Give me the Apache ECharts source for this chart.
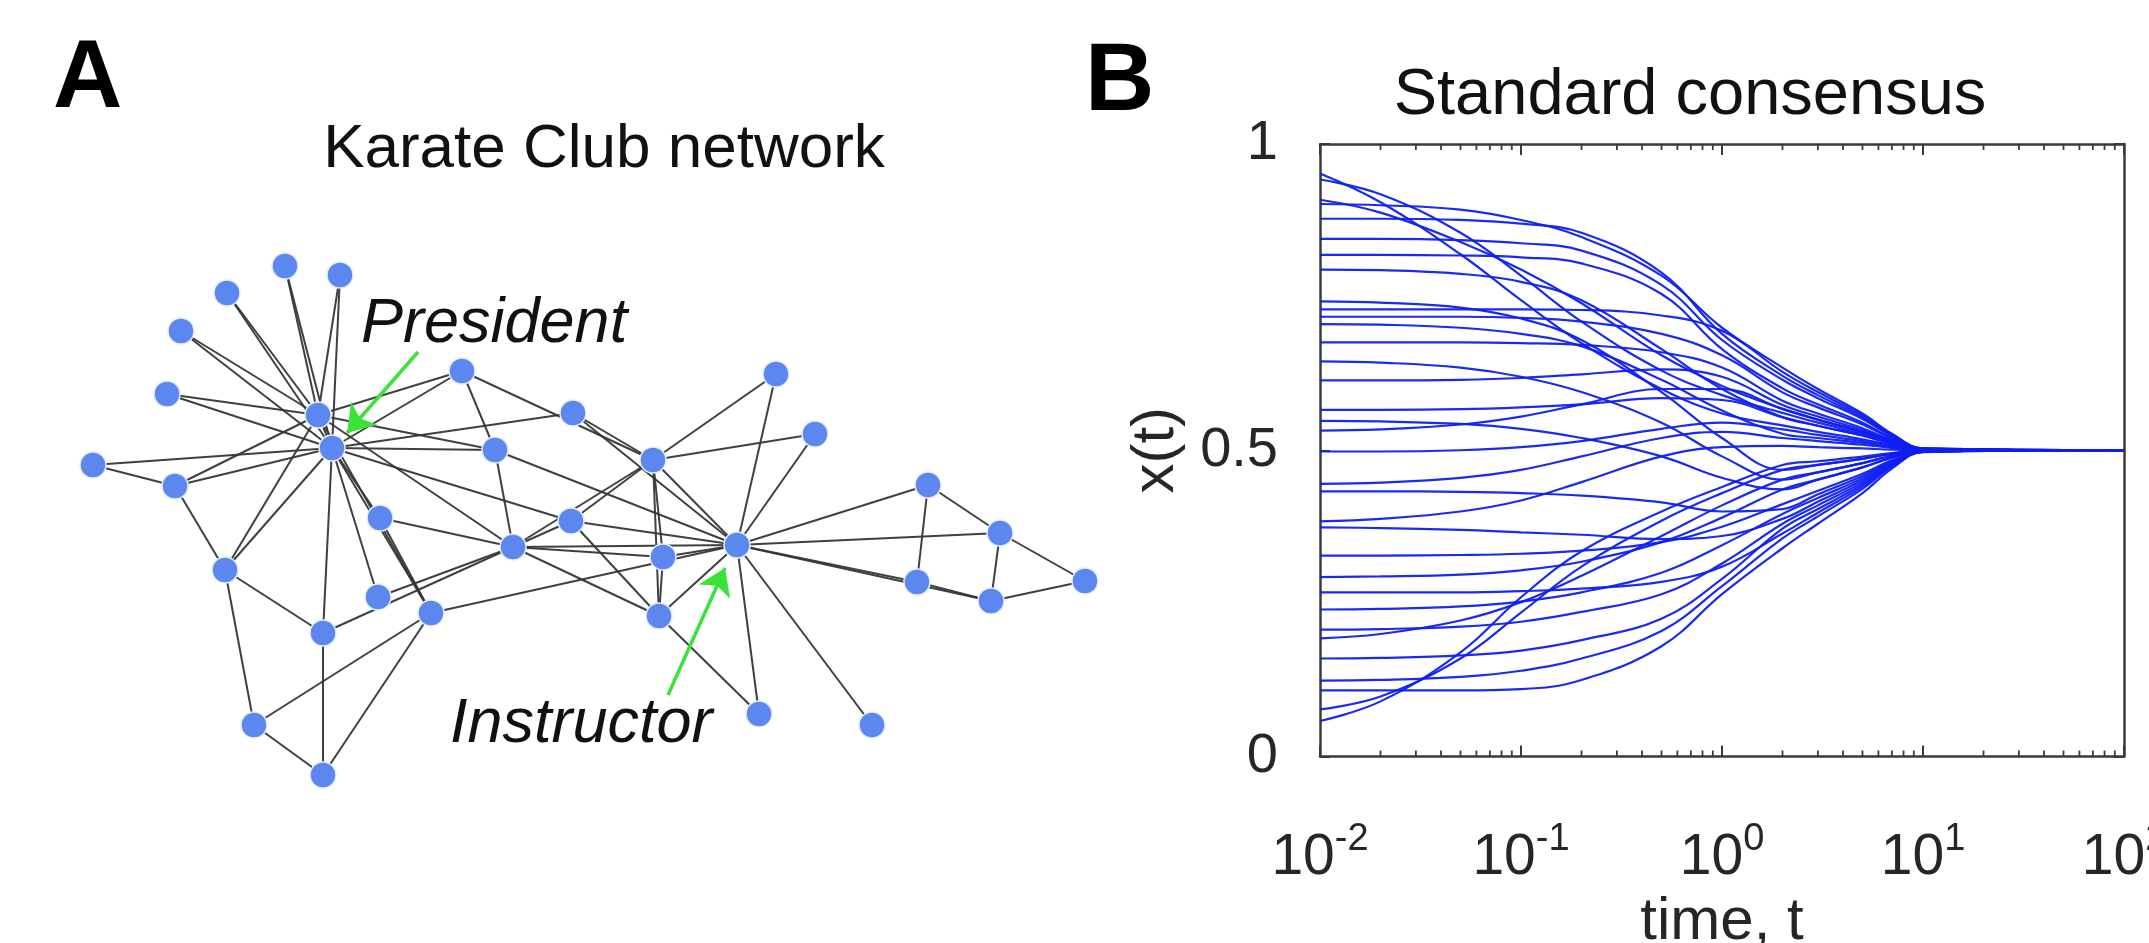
<!DOCTYPE html>
<html><head><meta charset="utf-8">
<script src="https://cdn.jsdelivr.net/npm/echarts@6/dist/echarts.min.js"></script>
<style>html,body{margin:0;padding:0;background:#fff}#c{width:2149px;height:943px}</style>
</head><body><div id="c"></div><script>
// ---------- Panel A: Karate club network (node positions) ----------
const nodeX = [737,653,513,659,917,1000,991,663,495,378,928,872,759,571,285,340,1085,776,227,573,181,815,167,225,323,254,93,323,380,175,462,431,318,332];
const nodeY = [545,460,547,616,582,533,601,557,450,597,485,725,714,521,266,275,581,374,293,413,331,434,394,570,775,725,465,633,518,486,371,613,415,448];
const edges = [[1,2],[1,3],[1,4],[1,5],[1,6],[1,7],[1,8],[1,9],[1,11],[1,12],[1,13],[1,14],[1,18],[1,20],[1,22],[1,32],
[2,3],[2,4],[2,8],[2,14],[2,18],[2,20],[2,22],[2,31],
[3,4],[3,8],[3,9],[3,10],[3,14],[3,28],[3,29],[3,33],
[4,8],[4,13],[4,14],[5,7],[5,11],[6,7],[6,11],[6,17],[7,17],
[9,31],[9,33],[9,34],[10,34],[14,34],[15,33],[15,34],[16,33],[16,34],[19,33],[19,34],[20,34],
[21,33],[21,34],[23,33],[23,34],[24,26],[24,28],[24,30],[24,33],[24,34],[25,26],[25,28],[25,32],[26,32],
[27,30],[27,34],[28,34],[29,32],[29,34],[30,33],[30,34],[31,33],[31,34],[32,33],[32,34],[33,34]];
const arrowFrom = [[418,352],[668,695]];
const arrowTo   = [[347,433],[725,568]];

// ---------- Panel B: Standard consensus trajectories ----------
const timeT = [0.01,0.02,0.05,0.1,0.2,0.5,1,2,3,5,7,10,100];
const xValues = [
[0.952,0.905,0.82,0.745,0.675,0.60,0.56,0.5405,0.530,0.518,0.508,0.501,0.5],
[0.942,0.918,0.855,0.785,0.71,0.63,0.59,0.561,0.545,0.527,0.512,0.501,0.5],
[0.909,0.888,0.84,0.795,0.74,0.655,0.605,0.5675,0.55,0.53,0.5135,0.5015,0.5],
[0.902,0.90,0.893,0.876,0.848,0.785,0.70,0.635,0.60,0.56,0.527,0.503,0.5],
[0.878,0.878,0.876,0.87,0.855,0.79,0.69,0.6215,0.59,0.554,0.524,0.503,0.5],
[0.845,0.845,0.843,0.838,0.826,0.77,0.68,0.615,0.585,0.551,0.523,0.5026,0.5],
[0.819,0.819,0.818,0.815,0.805,0.755,0.665,0.601,0.575,0.545,0.52,0.502,0.5],
[0.795,0.794,0.788,0.775,0.745,0.665,0.60,0.554,0.54,0.524,0.511,0.501,0.5],
[0.743,0.741,0.733,0.715,0.68,0.595,0.52,0.468,0.476,0.486,0.494,0.4994,0.5],
[0.730,0.730,0.730,0.73,0.729,0.72,0.695,0.628,0.595,0.557,0.526,0.503,0.5],
[0.718,0.718,0.718,0.716,0.71,0.69,0.655,0.5945,0.57,0.542,0.519,0.502,0.5],
[0.706,0.705,0.70,0.69,0.67,0.615,0.565,0.527,0.52,0.512,0.505,0.5006,0.5],
[0.676,0.676,0.676,0.675,0.672,0.66,0.635,0.581,0.56,0.536,0.516,0.502,0.5],
[0.645,0.643,0.635,0.62,0.595,0.545,0.49,0.452,0.464,0.479,0.491,0.499,0.5],
[0.614,0.614,0.615,0.618,0.624,0.632,0.62,0.574,0.555,0.533,0.515,0.502,0.5],
[0.566,0.566,0.567,0.57,0.575,0.585,0.582,0.554,0.54,0.524,0.511,0.501,0.5],
[0.548,0.547,0.543,0.535,0.52,0.49,0.455,0.436,0.452,0.472,0.488,0.4988,0.5],
[0.532,0.534,0.542,0.555,0.575,0.60,0.60,0.5675,0.55,0.53,0.5135,0.5015,0.5],
[0.498,0.498,0.50,0.505,0.515,0.535,0.545,0.534,0.525,0.515,0.507,0.501,0.5],
[0.445,0.447,0.455,0.468,0.49,0.52,0.53,0.52,0.515,0.509,0.504,0.5,0.5],
[0.433,0.433,0.432,0.43,0.426,0.415,0.40,0.404,0.428,0.458,0.482,0.498,0.5],
[0.384,0.388,0.40,0.418,0.448,0.49,0.505,0.507,0.505,0.503,0.501,0.5,0.5],
[0.374,0.373,0.37,0.366,0.362,0.355,0.36,0.388,0.416,0.451,0.479,0.498,0.5],
[0.328,0.328,0.329,0.331,0.336,0.35,0.375,0.412,0.434,0.4615,0.4835,0.498,0.5],
[0.293,0.294,0.297,0.304,0.318,0.35,0.39,0.436,0.452,0.472,0.488,0.499,0.5],
[0.268,0.268,0.268,0.27,0.274,0.285,0.31,0.364,0.398,0.4405,0.4745,0.4975,0.5],
[0.240,0.241,0.245,0.253,0.268,0.30,0.345,0.396,0.422,0.4545,0.4805,0.498,0.5],
[0.207,0.208,0.212,0.22,0.236,0.265,0.315,0.38,0.41,0.4475,0.4775,0.498,0.5],
[0.193,0.20,0.222,0.252,0.295,0.36,0.41,0.452,0.464,0.479,0.491,0.499,0.5],
[0.160,0.161,0.165,0.173,0.19,0.225,0.29,0.372,0.404,0.444,0.476,0.4976,0.5],
[0.124,0.125,0.13,0.14,0.16,0.205,0.278,0.356,0.392,0.437,0.473,0.4973,0.5],
[0.108,0.108,0.108,0.11,0.125,0.18,0.265,0.34,0.38,0.43,0.47,0.497,0.5],
[0.077,0.098,0.16,0.235,0.31,0.385,0.43,0.468,0.476,0.486,0.494,0.4994,0.5],
[0.058,0.09,0.17,0.26,0.335,0.40,0.44,0.476,0.482,0.4895,0.4955,0.5,0.5]
];
const minorTicks = [0.02,0.03,0.04,0.05,0.06,0.07,0.08,0.09,0.2,0.3,0.4,0.5,0.6,0.7,0.8,0.9,2,3,4,5,6,7,8,9,20,30,40,50,60,70,80,90];
const yTickLabels = {0:'0', 0.5:'0.5', 1:'1'};

// ---------- build ----------
const FONT = "'Liberation Sans', Arial, Helvetica, sans-serif";
const AX = '#3a3a3a';
const TXT = '#262626';
const chart = echarts.init(document.getElementById('c'), null, {renderer:'canvas'});

const lineSeries = xValues.map((vals) => ({
  type:'line', xAxisIndex:1, yAxisIndex:1, silent:true, symbol:'none',
  smooth:0.4, data: timeT.map((t,k)=>[t, vals[k]]),
  lineStyle:{color:'#0f1ff2', width:2.2, opacity:0.95}, z:3, animation:false
}));

const axisBox = {lineStyle:{color:AX, width:2.5}};
const option = {
  animation:false,
  backgroundColor:'#fff',
  grid:[
    {left:0, top:0, width:2149, height:943, show:false, outerBoundsMode:'none', containLabel:false},
    {left:1320, top:144, right:25, bottom:186.5, show:false, outerBoundsMode:'none', containLabel:false}
  ],
  xAxis:[
    {gridIndex:0, type:'value', min:0, max:2149, show:false},
    {gridIndex:1, type:'log', logBase:10, min:0.01, max:100, position:'bottom',
     axisLine:{show:true, onZero:false, ...axisBox},
     axisTick:{show:true, inside:true, length:11, lineStyle:{color:AX, width:2}},
     splitLine:{show:false},
     axisLabel:{margin:64, formatter:v=>'{b|10}{s|'+Math.round(Math.log10(v))+'}',
       rich:{b:{fontFamily:FONT, fontSize:57, color:TXT, lineHeight:58, padding:[18,0,0,0]},
             s:{fontFamily:FONT, fontSize:38, color:TXT, verticalAlign:'top', lineHeight:38}}},
     name:'time, t', nameLocation:'middle', nameGap:136,
     nameTextStyle:{fontFamily:FONT, fontSize:60, color:TXT}},
    {gridIndex:1, type:'log', logBase:10, min:0.01, max:100, position:'top',
     axisLine:{show:true, onZero:false, ...axisBox},
     axisTick:{show:true, inside:true, length:11, lineStyle:{color:AX, width:2}},
     axisLabel:{show:false}, splitLine:{show:false}}
  ],
  yAxis:[
    {gridIndex:0, type:'value', min:0, max:943, inverse:true, show:false},
    {gridIndex:1, type:'value', min:0, max:1, interval:0.5, position:'left',
     axisLine:{show:true, onZero:false, ...axisBox},
     axisTick:{show:true, inside:true, length:10, lineStyle:{color:AX, width:2}},
     splitLine:{show:false},
     axisLabel:{margin:42, fontFamily:FONT, fontSize:56, color:TXT, formatter:v=>yTickLabels[v] ?? String(v)},
     name:'x(t)', nameLocation:'middle', nameGap:134, nameRotate:90,
     nameTextStyle:{fontFamily:FONT, fontSize:60, color:TXT}},
    {gridIndex:1, type:'value', min:0, max:1, interval:0.5, position:'right',
     axisLine:{show:true, onZero:false, ...axisBox},
     axisTick:{show:true, inside:true, length:10, lineStyle:{color:AX, width:2}},
     axisLabel:{show:false}, splitLine:{show:false}}
  ],
  series:[
    {type:'graph', coordinateSystem:'cartesian2d', xAxisIndex:0, yAxisIndex:0, silent:true,
     data: nodeX.map((x,i)=>[x, nodeY[i]]),
     links: edges.map(([a,b])=>({source:a-1, target:b-1})),
     symbol:'circle', symbolSize:26,
     itemStyle:{color:'#5b87ef', borderColor:'#e4ecff', borderWidth:1.5},
     lineStyle:{color:'#363636', width:2, opacity:0.95, curveness:0},
     label:{show:false}, z:2},
    {type:'lines', coordinateSystem:'cartesian2d', xAxisIndex:0, yAxisIndex:0, silent:true,
     data: arrowFrom.map((p,i)=>({coords:[p, arrowTo[i]]})),
     symbol:['none','arrow'], symbolSize:26,
     lineStyle:{color:'#3ae23a', width:3.5, opacity:1, curveness:0}, z:4},
    {type:'custom', xAxisIndex:1, yAxisIndex:1, silent:true, clip:false, z:5,
     data: minorTicks.map(t=>[t,0]),
     renderItem:(params, api)=>{
       const b = api.coord([api.value(0), 0]);
       const t = api.coord([api.value(0), 1]);
       const st = {stroke:AX, lineWidth:1.8};
       return {type:'group', children:[
         {type:'line', shape:{x1:b[0], y1:b[1], x2:b[0], y2:b[1]-6}, style:st},
         {type:'line', shape:{x1:t[0], y1:t[1], x2:t[0], y2:t[1]+6}, style:st}
       ]};
     }},
    ...lineSeries
  ],
  graphic:[
    {type:'text', style:{x:53, y:81, text:'A', font:"bold 96px "+FONT, fill:'#000', textVerticalAlign:'middle'}},
    {type:'text', style:{x:1085, y:84, text:'B', font:"bold 96px "+FONT, fill:'#000', textVerticalAlign:'middle'}},
    {type:'text', style:{x:604, y:150, text:'Karate Club network', font:"62px "+FONT, fill:'#111', textAlign:'center', textVerticalAlign:'middle'}},
    {type:'text', style:{x:1690, y:96, text:'Standard consensus', font:"65px "+FONT, fill:'#111', textAlign:'center', textVerticalAlign:'middle'}},
    {type:'text', style:{x:361, y:324, text:'President', font:"italic 63px "+FONT, fill:'#111', textVerticalAlign:'middle'}},
    {type:'text', style:{x:450, y:724, text:'Instructor', font:"italic 63px "+FONT, fill:'#111', textVerticalAlign:'middle'}}
  ]
};
chart.setOption(option);
</script></body></html>
